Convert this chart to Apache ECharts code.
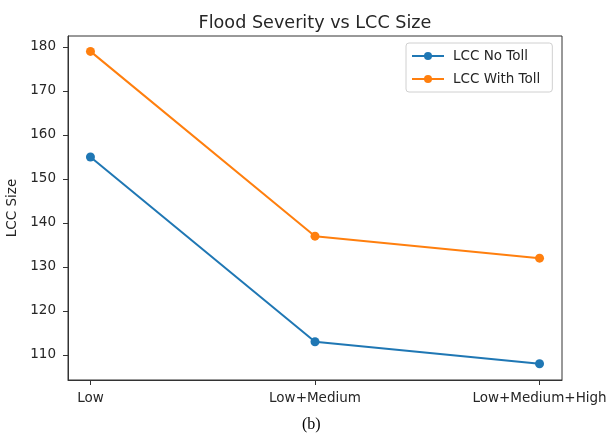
<!DOCTYPE html>
<html>
<head>
<meta charset="utf-8">
<script src="https://cdn.jsdelivr.net/npm/echarts@6/dist/echarts.min.js"></script>
<style>
html,body{margin:0;padding:0;background:#fff;}
#chart{width:612px;height:440px;}
</style>
</head>
<body>
<div id="chart"></div>
<script>
var categories = ['Low', 'Low+Medium', 'Low+Medium+High'];
var noToll = [155, 113, 108];
var withToll = [179, 137, 132];
var yTicks = [110, 120, 130, 140, 150, 160, 170, 180];
var titleText = 'Flood Severity vs LCC Size';
var yName = 'LCC Size';
var captionText = '(b)';

var font = 'DejaVu Sans';
var textColor = '#262626';
var catIdx = categories.map(function (c, i) { return i; });

var chart = echarts.init(document.getElementById('chart'), null, {renderer: 'canvas'});
chart.setOption({
  animation: false,
  backgroundColor: '#fff',
  title: {
    text: titleText,
    left: 310,
    textAlign: 'center',
    top: 9,
    textStyle: {fontFamily: font, fontSize: 17.6, fontWeight: 'normal', color: textColor}
  },
  grid: {
    left: 68, right: 50, top: 36, bottom: 60,
    containLabel: false,
    outerBoundsMode: 'none',
    show: true, borderColor: '#333', borderWidth: 1, backgroundColor: 'transparent'
  },
  legend: {
    orient: 'vertical',
    left: 406, top: 43,
    borderColor: '#d0d0d0', borderWidth: 1, borderRadius: 3,
    padding: [6, 12, 6, 5],
    itemWidth: 32, itemHeight: 10, itemGap: 9,
    textStyle: {fontFamily: font, fontSize: 13.5, color: textColor, lineHeight: 14, padding: [0, 0, 0, 4]},
    data: ['LCC No Toll', 'LCC With Toll']
  },
  xAxis: {
    type: 'value',
    min: -0.1, max: 2.1,
    splitLine: {show: false},
    axisLine: {show: true, onZero: false, lineStyle: {color: '#333'}},
    axisTick: {show: true, length: 5, customValues: catIdx, lineStyle: {color: '#333'}},
    axisLabel: {
      customValues: catIdx,
      margin: 11,
      fontFamily: font, fontSize: 13.5, color: textColor,
      formatter: function (v) { return categories[Math.round(v)]; }
    }
  },
  yAxis: {
    type: 'value',
    min: 104.3, max: 182.5,
    name: yName,
    nameLocation: 'middle',
    nameGap: 47,
    nameTextStyle: {fontFamily: font, fontSize: 13.5, color: textColor},
    splitLine: {show: false},
    axisLine: {show: true, onZero: false, lineStyle: {color: '#333'}},
    axisTick: {show: true, length: 5, customValues: yTicks, lineStyle: {color: '#333'}},
    axisLabel: {customValues: yTicks, margin: 12, fontFamily: font, fontSize: 13.5, color: textColor}
  },
  graphic: [{
    type: 'text',
    left: 302, top: 417,
    style: {text: captionText, font: '16px "Liberation Serif"', fill: '#000'}
  }],
  series: [{
    name: 'LCC No Toll',
    type: 'line',
    data: noToll.map(function (v, i) { return [i, v]; }),
    symbol: 'circle', symbolSize: 9,
    color: '#1f77b4',
    lineStyle: {width: 2}
  }, {
    name: 'LCC With Toll',
    type: 'line',
    data: withToll.map(function (v, i) { return [i, v]; }),
    symbol: 'circle', symbolSize: 9,
    color: '#ff7f0e',
    lineStyle: {width: 2}
  }]
});
</script>
</body>
</html>
